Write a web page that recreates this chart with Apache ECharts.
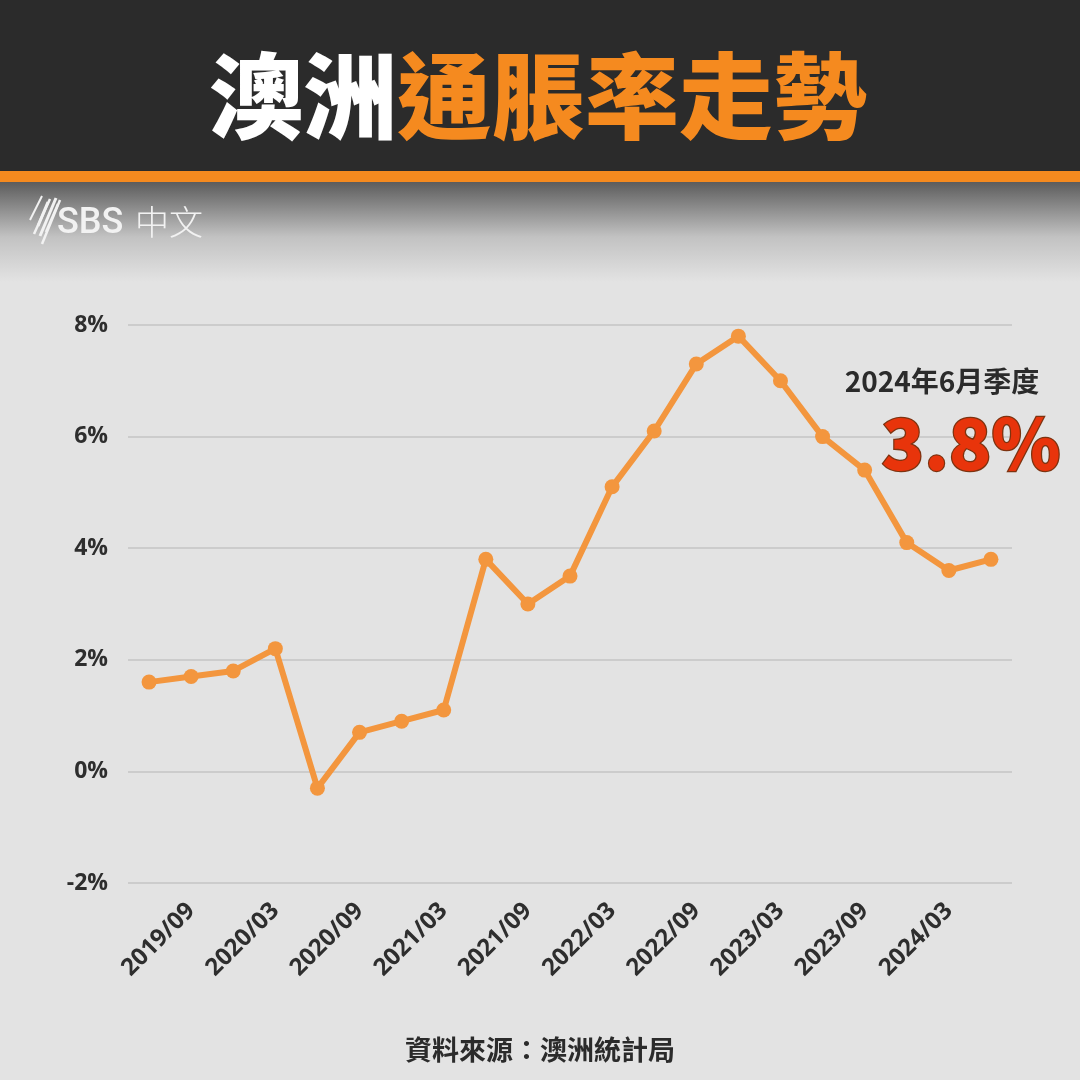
<!DOCTYPE html>
<html><head><meta charset="utf-8">
<script src="https://cdn.jsdelivr.net/npm/echarts@6/dist/echarts.min.js"></script>
<style>html,body{margin:0;padding:0;background:#e3e3e3}#c{width:1080px;height:1080px}</style>
</head><body><div id="c"></div>
<script>
const categories = ['2019/06','2019/09','2019/12','2020/03','2020/06','2020/09','2020/12','2021/03','2021/06','2021/09','2021/12','2022/03','2022/06','2022/09','2022/12','2023/03','2023/06','2023/09','2023/12','2024/03','2024/06'];
const inflation = [1.6,1.7,1.8,2.2,-0.3,0.7,0.9,1.1,3.8,3.0,3.5,5.1,6.1,7.3,7.8,7.0,6.0,5.4,4.1,3.6,3.8];
const yTicks = [-2,0,2,4,6,8];
const titleWhite = '澳洲';
const titleOrange = '通脹率走勢';
const noteLabel = '2024年6月季度';
const noteValue = '3.8%';
const sourceText = '資料來源：澳洲統計局';

const FONT = '"Noto Sans CJK TC","Noto Sans",sans-serif';
const LATIN = '"Open Sans","Noto Sans",sans-serif';
const chart = echarts.init(document.getElementById('c'));
chart.setOption({
  backgroundColor: '#e3e3e3',
  animation: false,
  grid: {left: 128, right: 68, top: 325, bottom: 197},
  xAxis: {
    type: 'category', data: categories, boundaryGap: true,
    axisLine: {show: false}, axisTick: {show: false},
    axisLabel: {
      interval: (i) => i % 2 === 1,
      rotate: 45, fontSize: 24, fontWeight: 'bold', color: '#2e2e2e',
      fontFamily: LATIN, margin: 24
    }
  },
  yAxis: {
    type: 'value', min: yTicks[0], max: yTicks[yTicks.length-1], interval: 2,
    axisLine: {show: false}, axisTick: {show: false},
    splitLine: {lineStyle: {color: '#c4c4c4', width: 1.5}},
    axisLabel: {formatter: '{value}%', fontSize: 23, fontWeight: 'bold', color: '#2e2e2e', fontFamily: LATIN, margin: 20}
  },
  series: [{
    type: 'line', data: inflation,
    lineStyle: {color: '#f3963e', width: 6},
    itemStyle: {color: '#f3963e'},
    symbol: 'circle', symbolSize: 15, z: 5
  }],
  graphic: [
    {type: 'rect', shape: {x: 0, y: 0, width: 1080, height: 171}, style: {fill: '#2b2b2b'}, z: -1},
    {type: 'rect', shape: {x: 0, y: 171, width: 1080, height: 11}, style: {fill: '#f58a1f'}, z: -1},
    {type: 'rect', shape: {x: 0, y: 182, width: 1080, height: 100}, z: -1,
      style: {fill: new echarts.graphic.LinearGradient(0,0,0,1,[{offset:0,color:'#5c5c5c'},{offset:0.55,color:'#c2c2c2'},{offset:1,color:'#e3e3e3'}])}},
    {type: 'text', x: 538, y: 96, z: 10,
      style: {text: '{w|' + titleWhite + '}{o|' + titleOrange + '}', align: 'center', verticalAlign: 'middle',
        rich: {
          w: {fill: '#ffffff', fontSize: 94, fontWeight: 900, fontFamily: FONT},
          o: {fill: '#f58a1f', fontSize: 94, fontWeight: 900, fontFamily: FONT}
        }}},
    {type: 'group', x: 0, y: 0, z: 10, children: [
      {type: 'polyline', shape: {points: [[38,226],[48,202]]}, style: {stroke: '#f2f2f2', lineWidth: 3}},
      {type: 'polyline', shape: {points: [[34,234],[50,199]]}, style: {stroke: '#f2f2f2', lineWidth: 2.5}},
      {type: 'polyline', shape: {points: [[40,236],[56,198]]}, style: {stroke: '#f2f2f2', lineWidth: 3}},
      {type: 'polyline', shape: {points: [[46,232],[58,204]]}, style: {stroke: '#f2f2f2', lineWidth: 2.5}},
      {type: 'polyline', shape: {points: [[30,220],[42,196]]}, style: {stroke: '#f2f2f2', lineWidth: 2}},
      {type: 'polyline', shape: {points: [[42,244],[60,200]]}, style: {stroke: '#f2f2f2', lineWidth: 2.5}}
    ]},
    {type: 'text', x: 57, y: 224, z: 10,
      style: {text: 'SBS', fill: '#f2f2f2', fontSize: 36, fontWeight: 500, fontFamily: 'Roboto, "Noto Sans", sans-serif', verticalAlign: 'middle'}},
    {type: 'text', x: 135, y: 222, z: 10,
      style: {text: '中文', fill: '#f2f2f2', fontSize: 34, fontWeight: 300, fontFamily: FONT, verticalAlign: 'middle'}},
    {type: 'text', x: 942, y: 381, z: 10,
      style: {text: noteLabel, fill: '#2b2b2b', fontSize: 28, fontWeight: 700, fontFamily: FONT, align: 'center', verticalAlign: 'middle'}},
    {type: 'text', x: 971, y: 443, z: 10,
      style: {text: noteValue, fill: '#e8340b', stroke: '#7d3310', lineWidth: 2.5, fontSize: 70, fontWeight: 900, fontFamily: FONT, align: 'center', verticalAlign: 'middle'}},
    {type: 'text', x: 540, y: 1050, z: 10,
      style: {text: sourceText, fill: '#2b2b2b', fontSize: 27, fontWeight: 700, fontFamily: FONT, align: 'center', verticalAlign: 'middle'}}
  ]
});
</script></body></html>
